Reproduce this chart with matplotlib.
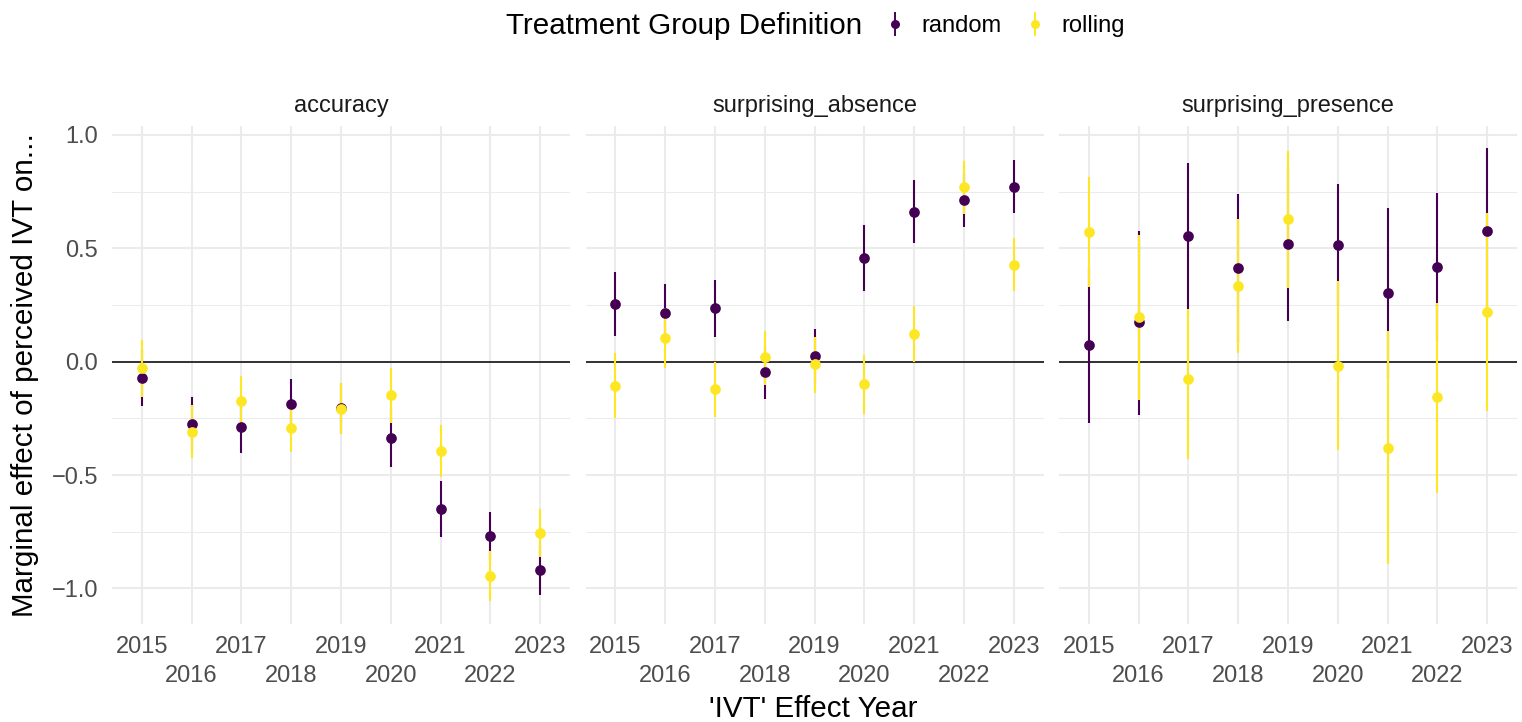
import numpy as np
import matplotlib
matplotlib.use("Agg")
import matplotlib.pyplot as plt
from matplotlib.lines import Line2D
from matplotlib.legend_handler import HandlerTuple

plt.rcParams["font.family"] = ["Liberation Sans", "DejaVu Sans"]

years = [2015, 2016, 2017, 2018, 2019, 2020, 2021, 2022, 2023]
facets = ["accuracy", "surprising_absence", "surprising_presence"]
groups = ["random", "rolling"]

# point estimates and interval bounds, per facet and treatment group
acc_random_est = [-0.071, -0.275, -0.287, -0.185, -0.205, -0.335, -0.650, -0.768, -0.919]
acc_random_lo = [-0.196, -0.393, -0.401, -0.292, -0.318, -0.463, -0.775, -0.874, -1.029]
acc_random_hi = [0.054, -0.157, -0.173, -0.078, -0.092, -0.207, -0.526, -0.662, -0.809]
acc_rolling_est = [-0.029, -0.309, -0.172, -0.291, -0.207, -0.149, -0.394, -0.946, -0.757]
acc_rolling_lo = [-0.154, -0.426, -0.282, -0.397, -0.319, -0.269, -0.510, -1.056, -0.863]
acc_rolling_hi = [0.096, -0.191, -0.062, -0.185, -0.096, -0.029, -0.279, -0.836, -0.651]

abs_random_est = [0.256, 0.213, 0.235, -0.047, 0.024, 0.459, 0.662, 0.712, 0.772]
abs_random_lo = [0.113, 0.083, 0.110, -0.165, -0.096, 0.312, 0.525, 0.593, 0.654]
abs_random_hi = [0.396, 0.343, 0.360, 0.071, 0.144, 0.603, 0.800, 0.831, 0.890]
abs_rolling_est = [-0.106, 0.103, -0.122, 0.019, -0.012, -0.100, 0.121, 0.769, 0.428]
abs_rolling_lo = [-0.247, -0.029, -0.244, -0.103, -0.137, -0.231, -0.003, 0.651, 0.312]
abs_rolling_hi = [0.037, 0.235, 0.000, 0.137, 0.110, 0.029, 0.246, 0.887, 0.544]

pres_random_est = [0.072, 0.174, 0.553, 0.412, 0.521, 0.513, 0.301, 0.418, 0.578]
pres_random_lo = [-0.272, -0.234, 0.231, 0.084, 0.179, 0.244, -0.076, 0.092, 0.215]
pres_random_hi = [0.416, 0.576, 0.875, 0.740, 0.860, 0.782, 0.678, 0.744, 0.941]
pres_rolling_est = [0.574, 0.197, -0.076, 0.332, 0.628, -0.018, -0.379, -0.157, 0.221]
pres_rolling_lo = [0.331, -0.169, -0.431, 0.037, 0.324, -0.391, -0.890, -0.578, -0.218]
pres_rolling_hi = [0.816, 0.559, 0.232, 0.629, 0.931, 0.354, 0.135, 0.260, 0.657]

data = {
    "accuracy": {
        "random": (acc_random_est, acc_random_lo, acc_random_hi),
        "rolling": (acc_rolling_est, acc_rolling_lo, acc_rolling_hi),
    },
    "surprising_absence": {
        "random": (abs_random_est, abs_random_lo, abs_random_hi),
        "rolling": (abs_rolling_est, abs_rolling_lo, abs_rolling_hi),
    },
    "surprising_presence": {
        "random": (pres_random_est, pres_random_lo, pres_random_hi),
        "rolling": (pres_rolling_est, pres_rolling_lo, pres_rolling_hi),
    },
}

COLORS = {"random": "#440154", "rolling": "#FDE725"}
GRID = "#EBEBEB"
BASE_FS, SMALL_FS = 21.3, 17

W, H = 1522, 722
fig = plt.figure(figsize=(W / 100, H / 100), dpi=100)

# shared y scale with 5% expansion (as ggplot does)
all_lo = min(min(data[f][g][1]) for f in facets for g in groups)
all_hi = max(max(data[f][g][2]) for f in facets for g in groups)
pad = 0.05 * (all_hi - all_lo)
ylim = (all_lo - pad, all_hi + pad)

x = np.arange(1, len(years) + 1)
panel_w, gap = 458, 15.5
left0, top, bottom = 112, 125.7, 623.8

axes = []
for i, facet in enumerate(facets):
    left = left0 + i * (panel_w + gap)
    ax = fig.add_axes([left / W, 1 - bottom / H, panel_w / W, (bottom - top) / H])
    axes.append(ax)

    # all ranges first, then all points
    for g in groups:
        est, lo, hi = data[facet][g]
        ax.vlines(x, lo, hi, color=COLORS[g], lw=1.5, zorder=3)
    for g in groups:
        est, lo, hi = data[facet][g]
        ax.plot(x, est, "o", color=COLORS[g], ms=7.7, mec="none", zorder=4)

    ax.axhline(0, color="black", lw=1.1, zorder=2)

    ax.set_xlim(0.4, len(years) + 0.6)
    ax.set_ylim(*ylim)
    ax.set_yticks([-1.0, -0.5, 0.0, 0.5, 1.0])
    ax.set_yticks([-0.75, -0.25, 0.25, 0.75], minor=True)
    # dodged x labels: odd years on the first row, even years on the second
    ax.set_xticks(x[::2])
    ax.set_xticklabels([str(y) for y in years[::2]])
    ax.set_xticks(x[1::2], minor=True)
    ax.set_xticklabels([str(y) for y in years[1::2]], minor=True)

    ax.grid(which="major", color=GRID, lw=1.5, zorder=0)
    ax.grid(which="minor", axis="y", color=GRID, lw=0.75, zorder=0)
    ax.grid(which="minor", axis="x", color=GRID, lw=1.5, zorder=0)
    ax.set_axisbelow(True)
    for s in ax.spines.values():
        s.set_visible(False)

    ax.tick_params(axis="x", which="major", length=0, pad=9, labelsize=SMALL_FS,
                   labelcolor="#4D4D4D")
    ax.tick_params(axis="x", which="minor", length=0, pad=30, labelsize=SMALL_FS,
                   labelcolor="#4D4D4D")
    ax.tick_params(axis="y", which="both", length=0, pad=10, labelsize=SMALL_FS,
                   labelcolor="#4D4D4D")
    if i > 0:
        ax.tick_params(axis="y", labelleft=False)

    ax.set_title(facet, fontsize=SMALL_FS, color="#1A1A1A", pad=10)

fig.text(813 / W, 1 - 717 / H, "'IVT' Effect Year", fontsize=BASE_FS,
         ha="center", va="baseline")
fig.text(24.6 / W, 1 - 374.8 / H, "Marginal effect of perceived IVT on...",
         fontsize=BASE_FS, rotation=90, ha="center", va="center")

# legend across the top
fig.text(506 / W, 1 - 26 / H, "Treatment Group Definition", fontsize=BASE_FS,
         ha="left", va="center")
handles = [
    (Line2D([], [], marker="|", ms=17, mew=1.4, color=COLORS[g], ls="none"),
     Line2D([], [], marker="o", ms=6.5, mec="none", color=COLORS[g], ls="none"))
    for g in groups
]
fig.legend(handles, groups, handler_map={tuple: HandlerTuple(ndivide=1)},
           loc="center left", bbox_to_anchor=(883 / W, 1 - 26 / H), ncol=2,
           frameon=False, fontsize=SMALL_FS, handlelength=1.0, handletextpad=0.63,
           columnspacing=0.9, borderpad=0, borderaxespad=0)

fig.savefig("out.png", dpi=100)
